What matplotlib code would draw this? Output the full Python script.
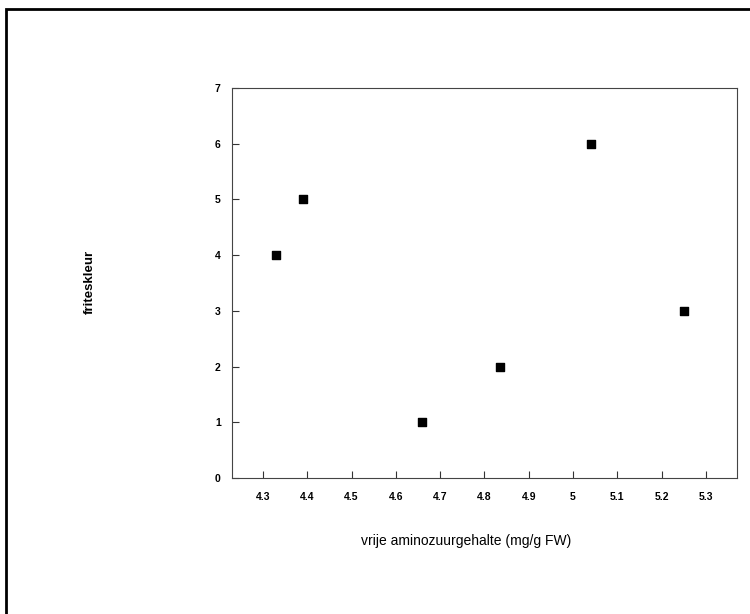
import matplotlib.pyplot as plt
from matplotlib.patches import Rectangle

# data
aminozuur = [4.33, 4.39, 4.66, 4.835, 5.04, 5.25]
friteskleur = [4, 5, 1, 2, 6, 3]
xticks = [4.3, 4.4, 4.5, 4.6, 4.7, 4.8, 4.9, 5.0, 5.1, 5.2, 5.3]
xticklabels = ['4.3', '4.4', '4.5', '4.6', '4.7', '4.8', '4.9', '5', '5.1', '5.2', '5.3']
yticks = [0, 1, 2, 3, 4, 5, 6, 7]

plt.rcParams['font.family'] = ['Liberation Sans', 'DejaVu Sans']

fig = plt.figure(figsize=(7.5, 6.14), dpi=100)
ax = fig.add_axes([0.3093, 0.2215, 0.6733, 0.6352])

ax.scatter(aminozuur, friteskleur, marker='s', s=28, color='black', zorder=3)

ax.set_xlim(4.23, 5.37)
ax.set_ylim(0, 7)
ax.set_xticks(xticks)
ax.set_xticklabels(xticklabels)
ax.set_yticks(yticks)
ax.tick_params(direction='in', length=5, width=0.8, labelsize=7.5, pad=10, color='#333333')
ax.tick_params(axis='y', pad=8)
for lab in ax.get_xticklabels() + ax.get_yticklabels():
    lab.set_fontweight('bold')
for sp in ax.spines.values():
    sp.set_linewidth(0.8)
    sp.set_color('#444444')

fig.text(0.621, 1 - 541 / 614, 'vrije aminozuurgehalte (mg/g FW)', ha='center', va='center', fontsize=10)
fig.text(90 / 750, 1 - 282 / 614, 'friteskleur', ha='center', va='center', rotation=90,
         fontsize=9.5, fontweight='bold')

# outer frame, only left and top edges fall inside the picture
top = 1 - 9 / 614
frame = Rectangle((6 / 750, -0.2), 1.2, top + 0.2, transform=fig.transFigure,
                  fill=False, edgecolor='black', linewidth=2.0, clip_on=False)
fig.patches.append(frame)

fig.savefig('out.png', dpi=100)
